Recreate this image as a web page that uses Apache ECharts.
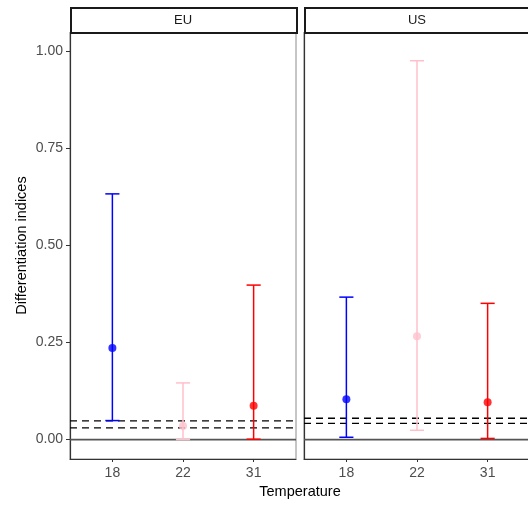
<!DOCTYPE html>
<html>
<head>
<meta charset="utf-8">
<script src="https://cdn.jsdelivr.net/npm/echarts@6/dist/echarts.min.js"></script>
<style>
html,body{margin:0;padding:0;background:#fff;}
#chart{width:528px;height:507px;}
</style>
</head>
<body>
<div id="chart"></div>
<script>
// ---- data ----
var categories = ['18', '22', '31'];
var regions = ['EU', 'US'];
var categoryColors = ['#0000FF', '#FFC0CB', '#FF0000'];
var euMean  = [0.236, 0.035, 0.087];
var euLower = [0.049, 0.000, 0.001];
var euUpper = [0.633, 0.146, 0.398];
var usMean  = [0.104, 0.266, 0.096];
var usLower = [0.006, 0.024, 0.003];
var usUpper = [0.367, 0.976, 0.351];
var euThresholds = [0.030, 0.048];
var usThresholds = [0.042, 0.055];
var yTicks = [0, 0.25, 0.5, 0.75, 1.0];

// ---- layout ----
var FONT = '"Liberation Sans", Arial, sans-serif';
var gridTop = 32, gridH = 427, gridW = 226;
var gridLefts = [70, 304];
var stripTop = 7, stripH = 25;

var chart = echarts.init(document.getElementById('chart'), null, {renderer: 'canvas'});

var means = [euMean, usMean], lowers = [euLower, usLower], uppers = [euUpper, usUpper];
var thresholds = [euThresholds, usThresholds];

var grids = [], xAxes = [], yAxes = [], series = [], graphics = [];

regions.forEach(function (r, p) {
  grids.push({left: gridLefts[p], top: gridTop, width: gridW, height: gridH,
    outerBoundsMode: 'none', containLabel: false,
    show: true, borderColor: '#8c8c8c', borderWidth: 1, backgroundColor: '#fff'});
  xAxes.push({
    gridIndex: p, type: 'value', min: 0.4, max: 3.6,
    axisLine: {show: true, onZero: false, lineStyle: {color: '#333', width: 1.2}},
    axisTick: {show: true, length: 3, customValues: [1, 2, 3], lineStyle: {color: '#333'}},
    axisLabel: {show: true, customValues: [1, 2, 3], margin: 7, color: '#4d4d4d', fontSize: 14, fontFamily: FONT,
      formatter: function (v) { return categories[Math.round(v) - 1]; }},
    splitLine: {show: false}
  });
  yAxes.push({
    gridIndex: p, type: 'value', min: -0.05, max: 1.05,
    axisLine: {show: true, onZero: false, lineStyle: {color: '#333', width: 1.2}},
    axisTick: {show: p === 0, length: 4, customValues: yTicks, lineStyle: {color: '#333'}},
    axisLabel: {show: p === 0, customValues: yTicks, margin: 7, color: '#4d4d4d', fontSize: 14, fontFamily: FONT,
      formatter: function (v) { return v.toFixed(2); }},
    splitLine: {show: false},
    name: p === 0 ? 'Differentiation indices' : '',
    nameLocation: 'middle', nameGap: 41, nameRotate: 90,
    nameTextStyle: {color: '#000', fontSize: 14.5, fontFamily: FONT}
  });

  // zero line
  series.push({
    type: 'custom', xAxisIndex: p, yAxisIndex: p, z: 2, silent: true,
    data: [[0]],
    renderItem: function (params, api) {
      var cs = params.coordSys;
      var y = api.coord([1, api.value(0)])[1];
      return {type: 'line', shape: {x1: cs.x, y1: y, x2: cs.x + cs.width, y2: y},
        style: {stroke: '#555', lineWidth: 1.6}};
    }
  });

  // dashed threshold lines
  series.push({
    type: 'custom', xAxisIndex: p, yAxisIndex: p, z: 3, silent: true,
    data: thresholds[p].map(function (t) { return [t]; }),
    renderItem: function (params, api) {
      var cs = params.coordSys;
      var y = api.coord([1, api.value(0)])[1];
      return {type: 'line', shape: {x1: cs.x, y1: y, x2: cs.x + cs.width, y2: y},
        style: {stroke: '#000', lineWidth: 1.3, lineDash: [7, 5]}};
    }
  });

  // error bars
  var ebData = categories.map(function (c, i) { return [i + 1, lowers[p][i], uppers[p][i], i]; });
  series.push({
    type: 'custom', xAxisIndex: p, yAxisIndex: p, z: 4, silent: true,
    data: ebData,
    renderItem: function (params, api) {
      var x = api.value(0), lo = api.value(1), hi = api.value(2), ci = api.value(3);
      var pLo = api.coord([x, lo]), pHi = api.coord([x, hi]);
      var left = api.coord([x - 0.1, lo])[0], right = api.coord([x + 0.1, lo])[0];
      var st = {stroke: categoryColors[ci], lineWidth: 1.5};
      return {type: 'group', children: [
        {type: 'line', shape: {x1: pLo[0], y1: pLo[1], x2: pHi[0], y2: pHi[1]}, style: st},
        {type: 'line', shape: {x1: left, y1: pHi[1], x2: right, y2: pHi[1]}, style: st},
        {type: 'line', shape: {x1: left, y1: pLo[1], x2: right, y2: pLo[1]}, style: st}
      ]};
    }
  });

  // points
  series.push({
    type: 'scatter', xAxisIndex: p, yAxisIndex: p, z: 5, silent: true,
    symbolSize: 8,
    data: categories.map(function (c, i) {
      return {value: [i + 1, means[p][i]], itemStyle: {color: categoryColors[i]}};
    })
  });

  // facet strips
  graphics.push({
    type: 'rect', left: gridLefts[p], top: stripTop,
    shape: {width: gridW, height: stripH},
    style: {fill: '#fff', stroke: '#1a1a1a', lineWidth: 2}, z: 10
  });
  graphics.push({
    type: 'text', x: gridLefts[p] + gridW / 2, y: stripTop + stripH / 2 + 1,
    style: {text: r, fill: '#1a1a1a', font: '13px ' + FONT, align: 'center', verticalAlign: 'middle'}, z: 11
  });
});

graphics.push({
  type: 'text', x: 300, y: 492,
  style: {text: 'Temperature', fill: '#000', font: '14.5px ' + FONT, align: 'center', verticalAlign: 'middle'}
});

chart.setOption({
  animation: false,
  backgroundColor: '#fff',
  grid: grids, xAxis: xAxes, yAxis: yAxes, series: series, graphic: graphics
});
</script>
</body>
</html>
